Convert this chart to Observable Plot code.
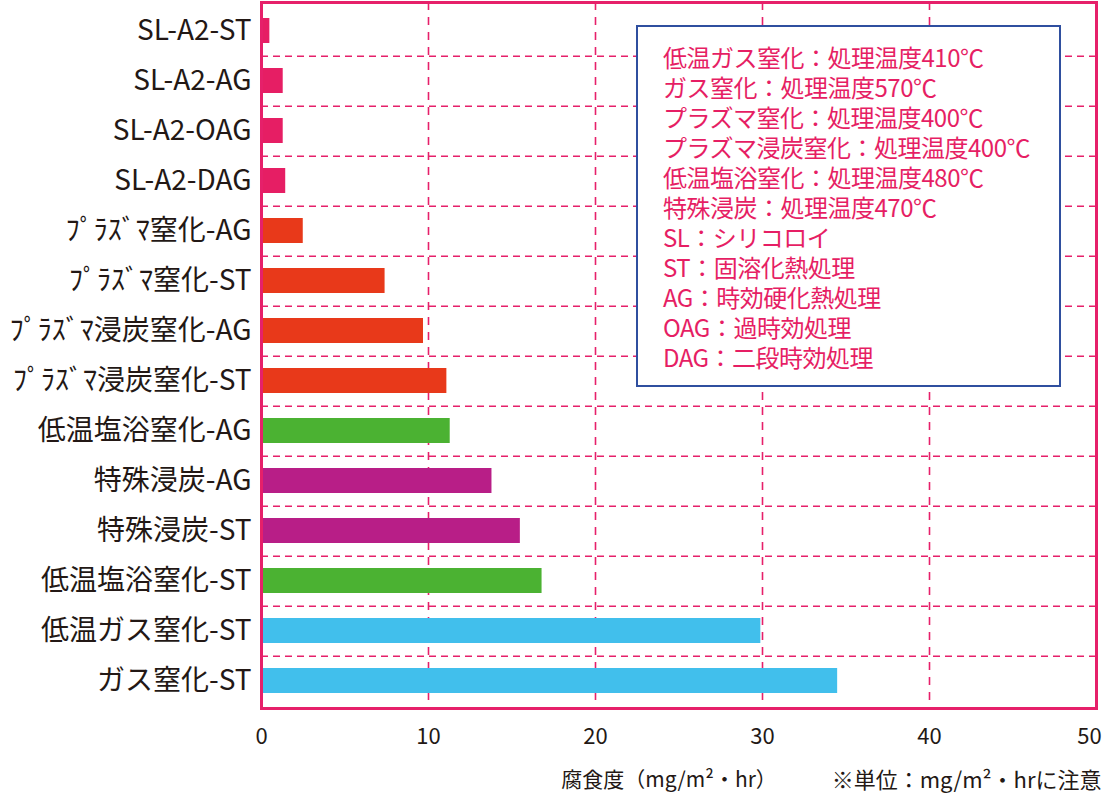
<!DOCTYPE html>
<html>
<head>
<meta charset="utf-8">
<script src="https://cdn.jsdelivr.net/npm/d3@7"></script>
<script src="https://cdn.jsdelivr.net/npm/@observablehq/plot@0.6"></script>
<style>
  html, body { margin: 0; padding: 0; background: #fff; }
  #wrap { position: relative; width: 1103px; height: 795px; overflow: hidden; font-family: "Noto Sans CJK JP", "Noto Sans", sans-serif; }
  #legend { position: absolute; left: 636px; top: 25px; width: 421px; height: 358px; border: 2px solid #2f4f9f; background: #fff; box-sizing: content-box; }
  #legend pre { position: absolute; left: 25px; top: 15px; margin: 0; font-family: inherit; color: #e61e64; font-size: 24px; line-height: 30px; white-space: pre; letter-spacing: -0.5px; }
</style>
</head>
<body>
<div id="wrap"></div>
<script>
const categories = ["SL-A2-ST","SL-A2-AG","SL-A2-OAG","SL-A2-DAG","ﾌﾟﾗｽﾞﾏ窒化-AG","ﾌﾟﾗｽﾞﾏ窒化-ST","ﾌﾟﾗｽﾞﾏ浸炭窒化-AG","ﾌﾟﾗｽﾞﾏ浸炭窒化-ST","低温塩浴窒化-AG","特殊浸炭-AG","特殊浸炭-ST","低温塩浴窒化-ST","低温ガス窒化-ST","ガス窒化-ST"];
const values = [0.5,1.3,1.3,1.45,2.5,7.4,9.7,11.1,11.3,13.8,15.5,16.8,29.9,34.5];
const groups = ["SL","SL","SL","SL","plasma","plasma","plasma","plasma","salt","carb","carb","salt","gas","gas"];
const groupDomain = ["SL","plasma","salt","carb","gas"];
const groupColors = ["#e61e64","#e8391a","#4bb232","#b81e87","#41bfec"];
const xTicks = [0,10,20,30,40];
const xTickLast = [50];
const gridX = [10,20,30,40];
const legendLines = ["低温ガス窒化：処理温度410℃","ガス窒化：処理温度570℃","プラズマ窒化：処理温度400℃","プラズマ浸炭窒化：処理温度400℃","低温塩浴窒化：処理温度480℃","特殊浸炭：処理温度470℃","SL：シリコロイ","ST：固溶化熱処理","AG：時効硬化熱処理","OAG：過時効処理","DAG：二段時効処理"];
const xLabel = "腐食度（mg/m²・hr）";
const note = "※単位：mg/m²・hrに注意";

const data = categories.map((c, i) => ({name: c, value: values[i], group: groups[i]}));

const W = 1103, H = 795, mt = 2, mb = 87, ml = 261, mr = 7;
const step = (H - mt - mb) / categories.length;
const pink = "#e6206a";
const ink = "#231815";

const chart = Plot.plot({
  width: W, height: H,
  marginTop: mt, marginBottom: mb, marginLeft: ml, marginRight: mr,
  style: {fontFamily: '"Noto Sans CJK JP", "Noto Sans", sans-serif', background: "#fff", overflow: "visible"},
  x: {domain: [0, 50], axis: null},
  y: {domain: categories, paddingInner: 0.5, paddingOuter: 0.25, axis: null},
  color: {domain: groupDomain, range: groupColors},
  marks: [
    Plot.ruleX(gridX, {stroke: pink, strokeWidth: 1.6, strokeDasharray: "8,7"}),
    Plot.ruleY(categories.slice(0, -1), {y: d => d, dy: step / 2, stroke: pink, strokeWidth: 1.6, strokeDasharray: "7,5"}),
    Plot.barX(data, {x: "value", y: "name", fill: "group"}),
    Plot.frame({stroke: pink, strokeWidth: 3}),
    Plot.axisY({anchor: "left", label: null, tickSize: 0, tickPadding: 10, fontSize: 28, fill: ink, stroke: null}),
    Plot.axisX(xTicks, {anchor: "bottom", label: null, tickSize: 0, tickPadding: 20, fontSize: 22, fill: ink}),
    Plot.axisX(xTickLast, {anchor: "bottom", label: null, tickSize: 0, tickPadding: 20, fontSize: 22, fill: ink, dx: -7}),
    Plot.text([xLabel], {frameAnchor: "bottom", dx: -10, dy: 72, text: d => d, fontSize: 21, fill: ink, lineAnchor: "middle"}),
    Plot.text([note], {frameAnchor: "bottom-right", dx: 5, dy: 72, text: d => d, fontSize: 22, fill: ink, textAnchor: "end", lineAnchor: "middle"})
  ]
});

const wrap = document.getElementById("wrap");
wrap.appendChild(chart);
const legend = document.createElement("div");
legend.id = "legend";
const pre = document.createElement("pre");
pre.textContent = legendLines.join("\n");
legend.appendChild(pre);
wrap.appendChild(legend);
</script>
</body>
</html>
